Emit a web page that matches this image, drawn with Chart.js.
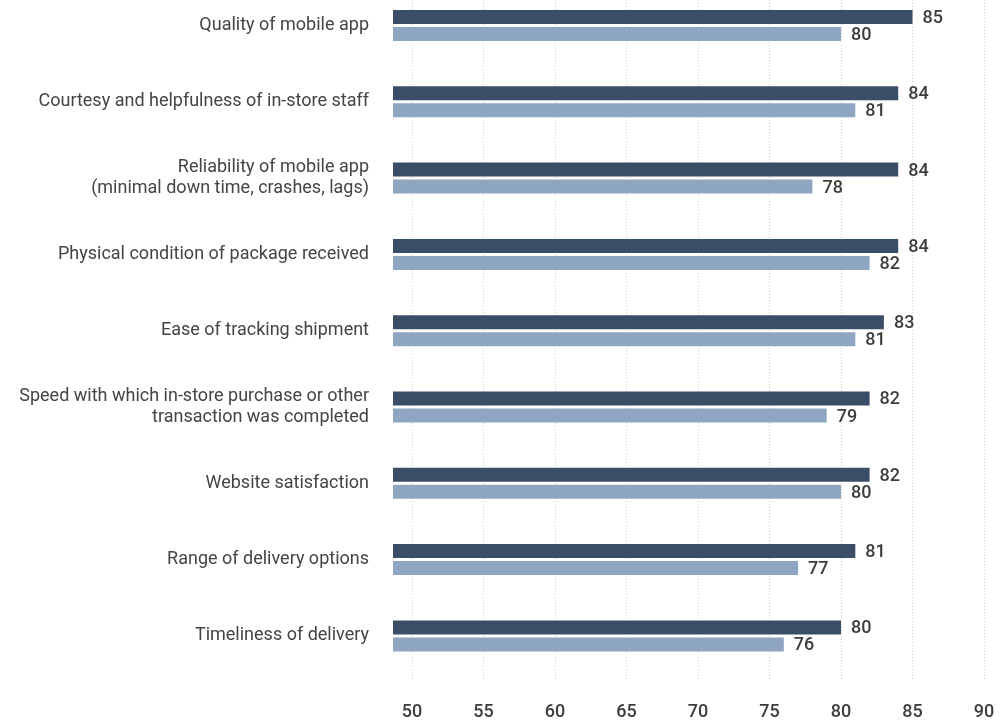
<!DOCTYPE html>
<html>
<head>
<meta charset="utf-8">
<script src="https://cdn.jsdelivr.net/npm/chart.js@4/dist/chart.umd.min.js"></script>
<style>
html,body{margin:0;padding:0;background:#fff;}
canvas{display:block;}
</style>
</head>
<body>
<canvas id="c" width="1002" height="721"></canvas>
<script>
const categories = [
  "Quality of mobile app",
  "Courtesy and helpfulness of in-store staff",
  ["Reliability of mobile app", "(minimal down time, crashes, lags)"],
  "Physical condition of package received",
  "Ease of tracking shipment",
  ["Speed with which in-store purchase or other", "transaction was completed"],
  "Website satisfaction",
  "Range of delivery options",
  "Timeliness of delivery"
];
const seriesDark = [85, 84, 84, 84, 83, 82, 82, 81, 80];
const seriesLight = [80, 81, 78, 82, 81, 79, 80, 77, 76];
const xTicks = [50, 55, 60, 65, 70, 75, 80, 85, 90];

const toPoints = arr => arr.map((v, i) => ({ x: v, y: i }));

const valueLabels = {
  id: 'valueLabels',
  afterDatasetsDraw(chart) {
    const ctx = chart.ctx;
    ctx.save();
    ctx.font = '500 18px Roboto';
    ctx.fillStyle = '#3d3d3d';
    ctx.textAlign = 'left';
    ctx.textBaseline = 'middle';
    chart.data.datasets.forEach((ds, di) => {
      const meta = chart.getDatasetMeta(di);
      meta.data.forEach((el, i) => {
        ctx.fillText(String(ds.data[i].x), el.x + 10, el.y + 1.5);
      });
    });
    ctx.restore();
  }
};

const noPad = axis => {
  axis.paddingTop = 0; axis.paddingBottom = 0;
  axis.paddingLeft = 0; axis.paddingRight = 0;
};

new Chart(document.getElementById('c'), {
  type: 'bar',
  data: {
    datasets: [
      { data: toPoints(seriesDark), backgroundColor: '#3a4e68', categoryPercentage: 0.446, barPercentage: 0.8235 },
      { data: toPoints(seriesLight), backgroundColor: '#8ea6c1', categoryPercentage: 0.446, barPercentage: 0.8235 }
    ]
  },
  options: {
    indexAxis: 'y',
    responsive: false,
    devicePixelRatio: 1,
    animation: false,
    layout: { padding: { left: 0, right: 18, top: 0, bottom: 0 } },
    plugins: { legend: { display: false }, tooltip: { enabled: false } },
    scales: {
      x: {
        type: 'linear',
        min: 48.67,
        max: 90,
        border: { display: false, dash: [1, 2] },
        grid: { color: '#cfcfcf', lineWidth: 1, drawTicks: false },
        afterBuildTicks: axis => { axis.ticks = xTicks.map(v => ({ value: v })); },
        afterFit: axis => { axis.height = 41; noPad(axis); },
        ticks: {
          padding: 22,
          color: '#3d3d3d',
          font: { family: 'Roboto', size: 18, weight: '500' },
          callback: v => String(v)
        }
      },
      y: {
        type: 'linear',
        offset: false,
        reverse: true,
        min: -0.334,
        max: 8.578,
        border: { display: false },
        grid: { display: false, drawTicks: false, offset: false },
        afterBuildTicks: axis => { axis.ticks = categories.map((c, i) => ({ value: i })); },
        afterFit: axis => { axis.width = 393; noPad(axis); },
        ticks: {
          padding: 24,
          color: '#444444',
          font: { family: 'Roboto', size: 18, lineHeight: 1.18 },
          callback: v => categories[v]
        }
      }
    }
  },
  plugins: [valueLabels]
});
</script>
</body>
</html>
